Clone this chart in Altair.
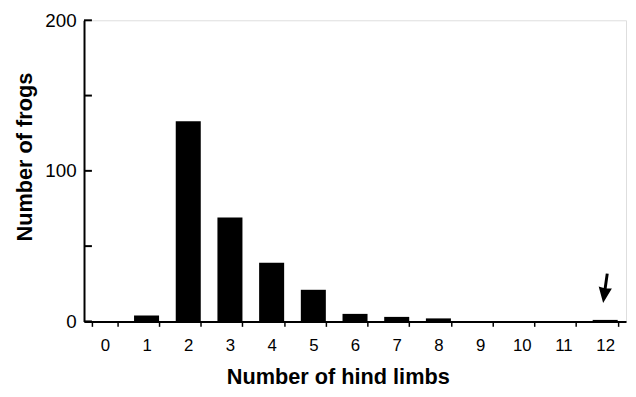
import altair as alt
import pandas as pd

limbs = ["0", "1", "2", "3", "4", "5", "6", "7", "8", "9", "10", "11", "12"]
frogs = [0, 4, 133, 69, 39, 21, 5, 3, 2, 0, 0, 0, 1]
y_ticks = [0, 50, 100, 150, 200]
arrow_x = ["12"]
arrow_y = [22]

FONT = "Liberation Sans"

df = pd.DataFrame({"limbs": limbs, "frogs": frogs})
tick_df = pd.DataFrame({"tick": y_ticks})
arrow_df = pd.DataFrame({"limbs": arrow_x, "frogs": arrow_y})

x_scale = alt.Scale(domain=limbs, paddingInner=0.4, paddingOuter=0.2)
y_scale = alt.Scale(domain=[0, 200], nice=False)

bars = alt.Chart(df).mark_bar(color="black").encode(
    x=alt.X("limbs:O", scale=x_scale, sort=limbs,
            axis=alt.Axis(title="Number of hind limbs", labelAngle=0, tickBand="extent",
                          tickSize=5, tickWidth=1.5, tickColor="black",
                          domainColor="black", domainWidth=2,
                          labelFont=FONT, labelFontSize=17, labelColor="black",
                          labelPadding=11,
                          titleFont=FONT, titleFontSize=22, titleFontWeight="bold",
                          titleColor="black", titleBaseline="alphabetic",
                          titleX=257, titleY=63)),
    y=alt.Y("frogs:Q", scale=y_scale,
            axis=alt.Axis(title="Number of frogs", values=y_ticks,
                          labelExpr="datum.value % 100 == 0 ? datum.label : ''",
                          ticks=False, tickSize=0, grid=False,
                          domainColor="black", domainWidth=2,
                          labelFont=FONT, labelFontSize=19, labelColor="black",
                          labelPadding=8,
                          titleFont=FONT, titleFontSize=22, titleFontWeight="bold",
                          titleColor="black", titlePadding=8, titleY=138)),
)

inner_ticks = alt.Chart(tick_df).mark_rule(color="black", strokeWidth=2).encode(
    y=alt.Y("tick:Q", scale=y_scale),
    x=alt.value(0),
    x2=alt.value(8),
)

arrow_path = "M -0.1 -1 L 0.1 -1 L 0.1 0.0 L 0.45 -0.05 L 0 1 L -0.45 -0.05 L -0.1 0.0 Z"
arrow = alt.Chart(arrow_df).mark_point(
    shape=arrow_path, filled=True, color="black", opacity=1, size=900, angle=8
).encode(
    x=alt.X("limbs:O", scale=x_scale, sort=limbs),
    y=alt.Y("frogs:Q", scale=y_scale),
)

chart = alt.layer(bars, inner_ticks, arrow).properties(
    width=549, height=305,
    autosize=alt.AutoSizeParams(type="none"),
    padding={"left": 77, "top": 10, "right": 2, "bottom": 65},
).configure_view(stroke=None).configure(background="white")

chart.save("out.html", embed_options={"renderer": "svg", "actions": False})
